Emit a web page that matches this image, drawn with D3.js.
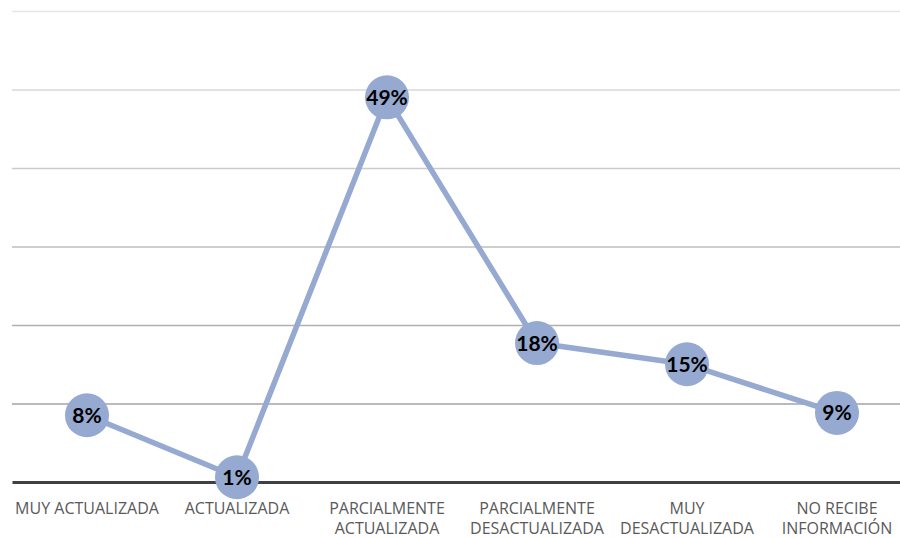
<!DOCTYPE html>
<html>
<head>
<meta charset="utf-8">
<script src="https://cdn.jsdelivr.net/npm/d3@7"></script>
<style>
  html, body { margin: 0; padding: 0; background: #ffffff; }
  svg { display: block; }
</style>
</head>
<body>
<svg id="chart" width="900" height="538"></svg>
<script>
// ---- data ----
const categories = [
  "MUY ACTUALIZADA",
  "ACTUALIZADA",
  "PARCIALMENTE ACTUALIZADA",
  "PARCIALMENTE DESACTUALIZADA",
  "MUY DESACTUALIZADA",
  "NO RECIBE INFORMACIÓN"
];
const categoryLines = [
  ["MUY ACTUALIZADA"],
  ["ACTUALIZADA"],
  ["PARCIALMENTE", "ACTUALIZADA"],
  ["PARCIALMENTE", "DESACTUALIZADA"],
  ["MUY", "DESACTUALIZADA"],
  ["NO RECIBE", "INFORMACIÓN"]
];
const values = [8.5, 0.6, 49.0, 17.7, 15.0, 8.8];
const valueLabels = ["8%", "1%", "49%", "18%", "15%", "9%"];
const yTicks = [0, 10, 20, 30, 40, 50, 60];

// ---- layout ----
const svg = d3.select("#chart");
const plotLeft = 12, plotRight = 912, plotTop = 11, plotBottom = 482;
const accent = "#95a9d1";

const x = d3.scaleBand().domain(categories).range([plotLeft, plotRight]).padding(0);
const y = d3.scaleLinear().domain([0, 60]).range([plotBottom, plotTop]);
const cx = d => x(d) + x.bandwidth() / 2;

// gridlines (lighter towards top)
const gridColor = d3.scaleLinear().domain([10, 60]).range(["#a3a3a3", "#e6e6e6"]);
const yAxis = d3.axisLeft(y).tickValues(yTicks.filter(t => t > 0)).tickSize(-(plotRight - plotLeft)).tickFormat("");
const gGrid = svg.append("g").attr("transform", `translate(${plotLeft},0)`).call(yAxis);
gGrid.select(".domain").remove();
gGrid.selectAll(".tick line").attr("stroke", d => gridColor(d)).attr("stroke-width", 1.5);

// x axis baseline and labels
const xAxis = d3.axisBottom(x).tickSize(0).tickFormat("");
const gX = svg.append("g").attr("transform", `translate(0,${plotBottom})`).call(xAxis);
gX.select(".domain").attr("stroke", "#404040").attr("stroke-width", 3);

const labelG = svg.append("g");
categories.forEach((c, i) => {
  const t = labelG.append("text")
    .attr("x", cx(c))
    .attr("y", 513.5)
    .attr("text-anchor", "middle")
    .attr("font-family", "'Open Sans', sans-serif")
    .attr("font-size", 16)
    .attr("fill", "#595959");
  categoryLines[i].forEach((ln, j) => {
    t.append("tspan").attr("x", cx(c)).attr("dy", j === 0 ? 0 : 20).text(ln);
  });
});

// line
const line = d3.line().x((d, i) => cx(categories[i])).y(d => y(d));
svg.append("path")
  .datum(values)
  .attr("d", line)
  .attr("fill", "none")
  .attr("stroke", accent)
  .attr("stroke-width", 5.5)
  .attr("stroke-linejoin", "round");

// markers
svg.append("g").selectAll("circle")
  .data(values)
  .join("circle")
  .attr("cx", (d, i) => cx(categories[i]))
  .attr("cy", d => y(d))
  .attr("r", 22)
  .attr("fill", accent);

// data labels
svg.append("g").selectAll("text")
  .data(values)
  .join("text")
  .attr("x", (d, i) => cx(categories[i]))
  .attr("y", d => y(d))
  .attr("dy", "0.36em")
  .attr("text-anchor", "middle")
  .attr("font-family", "Lato, 'Open Sans', sans-serif")
  .attr("font-weight", "bold")
  .attr("font-size", 21)
  .attr("fill", "#000000")
  .text((d, i) => valueLabels[i]);
</script>
</body>
</html>
